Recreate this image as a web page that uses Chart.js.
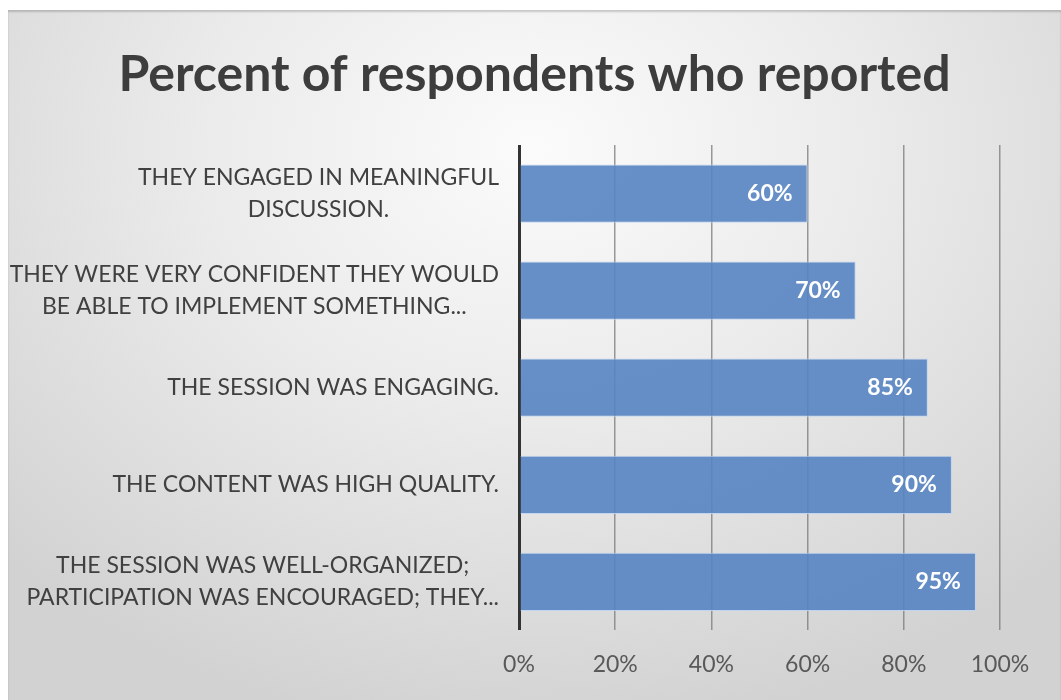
<!DOCTYPE html>
<html>
<head>
<meta charset="utf-8">
<script src="https://cdn.jsdelivr.net/npm/chart.js@4/dist/chart.umd.min.js"></script>
<style>
  html, body { margin: 0; padding: 0; background: #ffffff; }
  #panel {
    position: absolute; left: 8px; top: 10px; width: 1053px; height: 690px;
    background: radial-gradient(ellipse 70% 85% at 50% 20%, #fbfbfb 0%, #ebebeb 45%, #d2d2d2 100%);
    box-shadow: inset 0 2px 2px rgba(0,0,0,0.18);
  }
  canvas { display: block; }
</style>
</head>
<body>
<div id="panel"><canvas id="chart" width="1053" height="690"></canvas></div>
<script>
// Survey statements (each entry is a list of wrapped lines)
const categories = [
  ["THEY ENGAGED IN MEANINGFUL", "DISCUSSION."],
  ["THEY WERE VERY CONFIDENT THEY WOULD", "BE ABLE TO IMPLEMENT SOMETHING..."],
  ["THE SESSION WAS ENGAGING."],
  ["THE CONTENT WAS HIGH QUALITY."],
  ["THE SESSION WAS WELL-ORGANIZED;", "PARTICIPATION WAS ENCOURAGED; THEY..."]
];
// Share of respondents agreeing, in percent
const percentValues = [60, 70, 85, 90, 95];
// Value axis ticks
const xTicks = [0, 20, 40, 60, 80, 100];

const FONT = "Lato, 'Open Sans', sans-serif";

// Multi-line category labels: each block right-aligned to the axis, lines centred within the block
const categoryLabels = {
  id: 'categoryLabels',
  afterDraw(chart) {
    const yScale = chart.scales.y;
    const ctx = chart.ctx;
    ctx.save();
    ctx.font = "23px " + FONT;
    ctx.fillStyle = '#404040';
    ctx.textAlign = 'center';
    ctx.textBaseline = 'middle';
    const right = chart.chartArea.left - 20;
    const lineH = 32;
    categories.forEach((lines, i) => {
      const cy = yScale.getPixelForTick(i);
      const w = Math.max(...lines.map(l => ctx.measureText(l).width));
      const cx = right - w / 2;
      lines.forEach((l, j) => {
        ctx.fillText(l, cx, cy + (j - (lines.length - 1) / 2) * lineH);
      });
    });
    ctx.restore();
  }
};

// Value labels inside the end of each bar
const barValueLabels = {
  id: 'barValueLabels',
  afterDatasetsDraw(chart) {
    const ctx = chart.ctx;
    const meta = chart.getDatasetMeta(0);
    ctx.save();
    ctx.font = "bold 23px " + FONT;
    ctx.fillStyle = '#ffffff';
    ctx.textAlign = 'right';
    ctx.textBaseline = 'middle';
    meta.data.forEach((bar, i) => {
      ctx.fillText(percentValues[i] + '%', bar.x - 15, bar.y);
    });
    ctx.restore();
  }
};

new Chart(document.getElementById('chart'), {
  type: 'bar',
  data: {
    labels: categories,
    datasets: [{
      data: percentValues,
      backgroundColor: 'rgba(86,131,194,0.9)',
      borderColor: 'rgba(190,212,240,0.9)',
      borderWidth: 1,
      barPercentage: 0.6,
      categoryPercentage: 1.0
    }]
  },
  options: {
    indexAxis: 'y',
    responsive: false,
    animation: false,
    layout: { padding: { left: 61, right: 61, top: 0, bottom: 2 } },
    plugins: {
      legend: { display: false },
      tooltip: { enabled: false },
      title: {
        display: true,
        text: 'Percent of respondents who reported',
        color: '#3d3d3d',
        font: { family: FONT, size: 50, weight: 'bold' },
        padding: { top: 35, bottom: 40 }
      }
    },
    scales: {
      x: {
        min: 0,
        max: 100,
        afterBuildTicks(scale) { scale.ticks = xTicks.map(v => ({ value: v })); },
        ticks: {
          callback: v => v + '%',
          color: '#595959',
          font: { family: FONT, size: 23 },
          padding: 20
        },
        grid: {
          drawTicks: false,
          color: ctx => (ctx.tick && ctx.tick.value === 0) ? '#333333' : 'rgba(120,120,120,0.75)',
          lineWidth: ctx => (ctx.tick && ctx.tick.value === 0) ? 3 : 1.5
        },
        border: { display: false }
      },
      y: {
        afterFit(scale) { scale.width = 450; },
        ticks: { display: false },
        grid: { display: false },
        border: { display: false }
      }
    }
  },
  plugins: [categoryLabels, barValueLabels]
});
</script>
</body>
</html>
